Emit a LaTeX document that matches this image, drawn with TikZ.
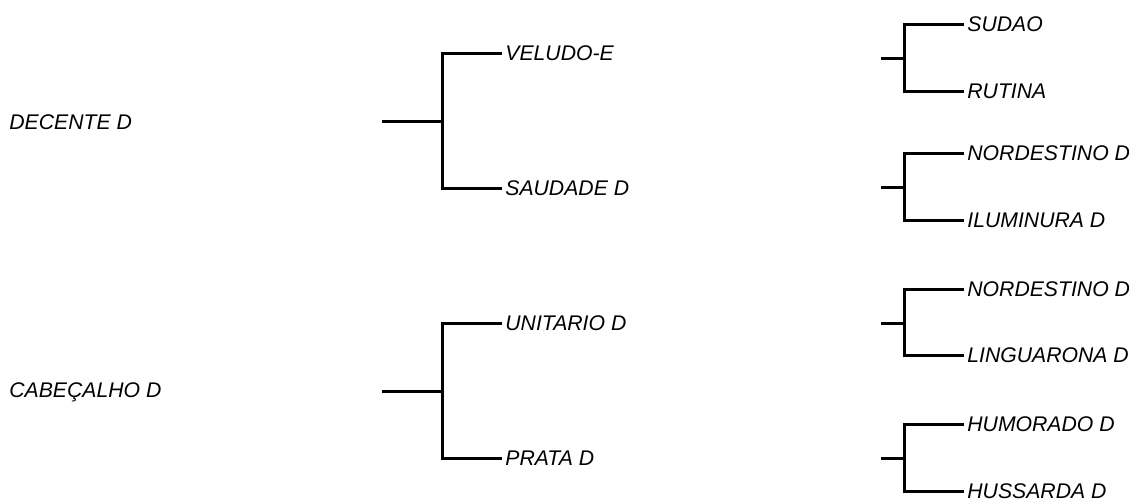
\documentclass[tikz,border=0pt]{standalone}
\usepackage{fontspec}
\setmainfont{Liberation Sans}
\usetikzlibrary{positioning}

\tikzset{
  lbl/.style={anchor=west,inner ysep=0pt,inner xsep=1.5pt,text depth=0pt,font=\fontsize{10.6}{12}\selectfont\itshape},
  edge/.style={line width=1.5pt}
}

\begin{document}
\begin{tikzpicture}[x=0.5pt,y=-0.5pt]
\useasboundingbox (0,0) rectangle (1133,500);
% roots
\node[lbl] (decente) at (6,122) {DECENTE D};
\node[lbl] (cabecalho) at (6,390) {CABEÇALHO D};
% first level
\coordinate (sa) at (382,121);
\coordinate (ja) at (442,121);
\node[lbl] (veludo) at (502,53) {VELUDO-E};
\node[lbl] (saudade) at (502,188) {SAUDADE D};
\draw[edge] (sa)--(ja);
\draw[edge] (veludo.west) -| (ja) |- (saudade.west);
\coordinate (sb) at (382,391);
\coordinate (jb) at (442,391);
\node[lbl] (unitario) at (502,323) {UNITARIO D};
\node[lbl] (prata) at (502,458) {PRATA D};
\draw[edge] (sb)--(jb);
\draw[edge] (unitario.west) -| (jb) |- (prata.west);
% second level
\coordinate (sc) at (881,58);
\coordinate (jc) at (904,58);
\node[lbl] (sudao) at (964,24) {SUDAO};
\node[lbl] (rutina) at (964,91) {RUTINA};
\draw[edge] (sc)--(jc);
\draw[edge] (sudao.west) -| (jc) |- (rutina.west);
\coordinate (sd) at (881,187);
\coordinate (jd) at (904,187);
\node[lbl] (nordestinoa) at (964,153) {NORDESTINO D};
\node[lbl] (iluminura) at (964,220) {ILUMINURA D};
\draw[edge] (sd)--(jd);
\draw[edge] (nordestinoa.west) -| (jd) |- (iluminura.west);
\coordinate (se) at (881,323);
\coordinate (je) at (904,323);
\node[lbl] (nordestinob) at (964,289) {NORDESTINO D};
\node[lbl] (linguarona) at (964,355) {LINGUARONA D};
\draw[edge] (se)--(je);
\draw[edge] (nordestinob.west) -| (je) |- (linguarona.west);
\coordinate (sf) at (881,458);
\coordinate (jf) at (904,458);
\node[lbl] (humorado) at (964,424) {HUMORADO D};
\node[lbl] (hussarda) at (964,491) {HUSSARDA D};
\draw[edge] (sf)--(jf);
\draw[edge] (humorado.west) -| (jf) |- (hussarda.west);
\end{tikzpicture}
\end{document}
